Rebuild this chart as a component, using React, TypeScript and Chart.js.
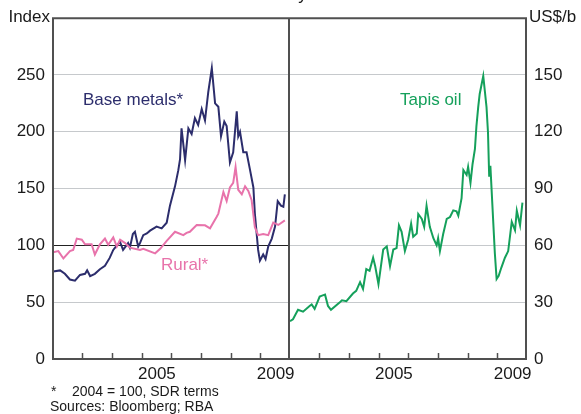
import React, { useEffect, useRef } from 'react';
import { Chart, registerables } from 'chart.js';

Chart.register(...registerables);

const FONT = "Arial, 'Liberation Sans', Helvetica, sans-serif";
Chart.defaults.font.family = FONT;

// ---- data ----
const baseMetalsYears = [
  2002.0, 2002.24, 2002.4, 2002.57, 2002.74, 2002.91, 2003.08, 2003.15, 2003.25, 2003.41,
  2003.58, 2003.75, 2003.91, 2004.03, 2004.15, 2004.26, 2004.36, 2004.53, 2004.59, 2004.69,
  2004.76, 2004.87, 2004.93, 2005.04, 2005.16, 2005.27, 2005.49, 2005.66, 2005.83, 2005.94,
  2006.11, 2006.22, 2006.28, 2006.33, 2006.45, 2006.56, 2006.67, 2006.78, 2006.89, 2007.01,
  2007.12, 2007.23, 2007.35, 2007.46, 2007.57, 2007.66, 2007.77, 2007.85, 2007.96, 2008.07,
  2008.19, 2008.24, 2008.3, 2008.41, 2008.52, 2008.64, 2008.75, 2008.8, 2008.91, 2008.97,
  2009.08, 2009.16, 2009.25, 2009.37, 2009.48, 2009.57, 2009.68, 2009.76, 2009.81,
];
const baseMetalsValues = [
  77, 78, 75, 70, 69, 74, 75, 78, 73, 75,
  79, 82, 89, 96, 100, 103, 96, 102, 98, 110,
  112, 99, 102, 109, 110.5, 113, 116.5, 115, 120, 135,
  152, 166, 176, 203, 175, 203, 198, 212, 206, 220,
  210, 235, 256, 225, 222, 196, 209, 205, 173, 182,
  218, 196, 200, 182, 182, 166, 151, 128, 96, 86.5,
  92, 88, 99, 106, 116.6, 139, 135, 134, 145,
];

const ruralYears = [
  2002.0, 2002.18, 2002.35, 2002.57, 2002.68, 2002.8, 2002.97, 2003.08, 2003.3, 2003.41,
  2003.58, 2003.75, 2003.86, 2004.03, 2004.15, 2004.26, 2004.43, 2004.59, 2004.93, 2005.04,
  2005.44, 2005.61, 2005.83, 2006.11, 2006.39, 2006.5, 2006.61, 2006.84, 2007.12, 2007.29,
  2007.51, 2007.57, 2007.74, 2007.85, 2007.96, 2008.07, 2008.15, 2008.24, 2008.36, 2008.47,
  2008.58, 2008.69, 2008.8, 2008.91, 2009.08, 2009.25, 2009.42, 2009.59, 2009.81,
];
const ruralValues = [
  94, 95, 88.5, 95, 96, 106, 105, 101, 101, 92,
  101, 106, 100.6, 107, 99, 105, 102, 98, 96, 97,
  93, 97, 104, 112, 109, 111, 112, 118, 117.7, 115,
  125, 128, 147, 139, 151, 155, 169, 149, 145, 152,
  148, 140, 116, 109, 110, 109, 120, 118, 122,
];

const tapisYears = [
  2002.0, 2002.1, 2002.27, 2002.44, 2002.66, 2002.73, 2002.83, 2003.0, 2003.08, 2003.18,
  2003.28, 2003.38, 2003.68, 2003.75, 2003.9, 2004.12, 2004.23, 2004.36, 2004.46, 2004.57,
  2004.68, 2004.8, 2004.87, 2004.98, 2005.14, 2005.26, 2005.37, 2005.48, 2005.59, 2005.67,
  2005.76, 2005.87, 2005.98, 2006.08, 2006.15, 2006.27, 2006.32, 2006.44, 2006.52, 2006.6,
  2006.71, 2006.83, 2006.94, 2006.99, 2007.05, 2007.16, 2007.28, 2007.39, 2007.5, 2007.61,
  2007.67, 2007.78, 2007.84, 2007.95, 2008.0, 2008.08, 2008.15, 2008.23, 2008.28, 2008.34,
  2008.39, 2008.51, 2008.62, 2008.67, 2008.71, 2008.75, 2008.9, 2008.96, 2009.03, 2009.12,
  2009.24, 2009.35, 2009.47, 2009.58, 2009.64, 2009.75, 2009.83,
];
const tapisValues = [
  20, 21, 26, 25, 28, 28.8, 26.5, 33, 33.5, 34,
  28, 26, 30, 31, 30.5, 34.6, 36, 40.6, 37, 47.5,
  46.6, 53.5, 49, 39.5, 57.8, 59.5, 49, 57.8, 58.6, 70.6,
  67.2, 57, 63, 71.5, 64.6, 66.3, 76.6, 74, 69.8, 80.9,
  69.8, 63.8, 60, 63.8, 57, 66, 74, 75, 78.5, 78,
  75.7, 85, 99.8, 97.2, 101.5, 93, 103, 111, 123, 133,
  140, 149.5, 133, 119.5, 96.3, 102, 56, 42.3, 44, 48.3,
  53.5, 57, 72.4, 68, 78.3, 70.6, 82.6,
];

const indexTicks = [0, 50, 100, 150, 200, 250];
const oilTicks = [0, 30, 60, 90, 120, 150];
const yearTicks = [2002, 2003, 2004, 2005, 2006, 2007, 2008, 2009];
const yearLabels = ['2005', '2009'];

// ---- styling ----
const W = 581;
const H = 414;
const NAVY = '#2c2d6c';
const PINK = '#e873ab';
const GREEN = '#15a05b';
const GRID = '#c6c9cc';
const FRAME = '#505050';
const TEXT = '#1a1a1a';

const toPoints = (xs: number[], ys: number[]) => xs.map((x, i) => ({ x, y: ys[i] }));

function textPlugin(items: { text: string; x: number; y: number; color: string; align: CanvasTextAlign; size: number; baseline?: CanvasTextBaseline }[]) {
  return {
    id: 'texts',
    afterDraw(chart: any) {
      const ctx = chart.ctx;
      ctx.save();
      for (const it of items) {
        ctx.font = `${it.size}px ${FONT}`;
        ctx.fillStyle = it.color;
        ctx.textAlign = it.align;
        ctx.textBaseline = it.baseline || 'middle';
        ctx.fillText(it.text, it.x, it.y);
      }
      ctx.restore();
    },
  };
}

function framePlugin(drawLeft: boolean) {
  return {
    id: 'frame',
    afterDraw(chart: any) {
      const { left, right, top, bottom } = chart.chartArea;
      const ctx = chart.ctx;
      ctx.save();
      ctx.strokeStyle = FRAME;
      ctx.lineWidth = 2;
      ctx.beginPath();
      if (drawLeft) {
        ctx.moveTo(left, bottom);
        ctx.lineTo(left, top);
      } else {
        ctx.moveTo(left, top);
      }
      ctx.lineTo(right, top);
      ctx.lineTo(right, bottom);
      ctx.lineTo(left - (drawLeft ? 1 : 0), bottom);
      ctx.stroke();
      ctx.restore();
    },
  };
}

function panelOptions(isLeft: boolean): any {
  const yTicks = isLeft ? indexTicks : oilTicks;
  return {
    responsive: false,
    animation: false,
    devicePixelRatio: 1,
    layout: {
      padding: isLeft
        ? { left: 8, right: W - 289, top: 9, bottom: 0 }
        : { left: 290, right: 0, top: 9, bottom: 0 },
    },
    plugins: {
      legend: { display: false },
      tooltip: { enabled: false },
      title: { display: false },
    },
    elements: { point: { radius: 0 }, line: { tension: 0 } },
    scales: {
      x: {
        type: 'linear',
        min: 2002,
        max: 2009.95,
        afterBuildTicks: (s: any) => {
          const vals = [...yearTicks, ...yearLabels.map((l) => Number(l) + 0.5)].sort((a, b) => a - b);
          s.ticks = vals.map((value) => ({ value }));
        },
        afterFit: (s: any) => {
          s.height = H - 359;
        },
        border: { display: false },
        grid: {
          drawOnChartArea: false,
          drawTicks: true,
          tickLength: -6,
          tickWidth: 1.5,
          tickColor: (ctx: any) => {
            const v = ctx.tick ? ctx.tick.value : 0;
            return Number.isInteger(v) && v > 2002 ? FRAME : 'rgba(0,0,0,0)';
          },
        },
        ticks: {
          autoSkip: false,
          maxRotation: 0,
          minRotation: 0,
          padding: 11,
          color: TEXT,
          font: { size: 17 },
          callback: (v: number) => {
            const l = yearLabels.find((s) => Number(s) + 0.5 === v);
            return l ? l : '';
          },
        },
      },
      y: {
        position: isLeft ? 'left' : 'right',
        min: 0,
        max: isLeft ? 300 : 180,
        afterFit: (s: any) => {
          s.width = isLeft ? 45 : W - 526;
        },
        border: { display: false },
        grid: {
          drawTicks: false,
          lineWidth: 1,
          color: (ctx: any) => (isLeft && ctx.tick && ctx.tick.value === 100 ? '#222222' : GRID),
        },
        ticks: {
          stepSize: isLeft ? 50 : 30,
          padding: 8,
          color: TEXT,
          font: { size: 17 },
          callback: (v: number) => (yTicks.includes(v) ? String(v) : null),
        },
      },
    },
  };
}

export default function App() {
  const leftRef = useRef<HTMLCanvasElement>(null);
  const rightRef = useRef<HTMLCanvasElement>(null);

  useEffect(() => {
    const left = new Chart(leftRef.current as HTMLCanvasElement, {
      type: 'line',
      data: {
        datasets: [
          { label: 'Rural*', data: toPoints(ruralYears, ruralValues), borderColor: PINK, borderWidth: 2, fill: false },
          { label: 'Base metals*', data: toPoints(baseMetalsYears, baseMetalsValues), borderColor: NAVY, borderWidth: 2, fill: false },
        ],
      },
      options: panelOptions(true),
      plugins: [
        framePlugin(true),
        textPlugin([
          { text: 'Index', x: 50, y: 17, color: TEXT, align: 'right', size: 17 },
          { text: 'Base metals*', x: 83, y: 100, color: NAVY, align: 'left', size: 17 },
          { text: 'Rural*', x: 161, y: 265, color: PINK, align: 'left', size: 17 },
          { text: 'Weekly', x: 279, y: 0, color: TEXT, align: 'center', size: 17, baseline: 'alphabetic' },
        ]),
      ],
    } as any);

    const right = new Chart(rightRef.current as HTMLCanvasElement, {
      type: 'line',
      data: {
        datasets: [
          { label: 'Tapis oil', data: toPoints(tapisYears, tapisValues), borderColor: GREEN, borderWidth: 2, fill: false },
        ],
      },
      options: panelOptions(false),
      plugins: [
        framePlugin(false),
        textPlugin([
          { text: 'US$/b', x: 529, y: 17, color: TEXT, align: 'left', size: 17 },
          { text: 'Tapis oil', x: 400, y: 100, color: GREEN, align: 'left', size: 17 },
        ]),
      ],
    } as any);

    return () => {
      left.destroy();
      right.destroy();
    };
  }, []);

  const noteStyle: React.CSSProperties = {
    position: 'absolute',
    fontSize: 14,
    lineHeight: '15px',
    color: TEXT,
    whiteSpace: 'nowrap',
  };

  return (
    <div style={{ position: 'absolute', left: 0, top: 0, width: W, height: H, background: '#ffffff', overflow: 'hidden', fontFamily: FONT }}>
      <canvas ref={leftRef} width={W} height={H} style={{ position: 'absolute', left: 0, top: 0 }} />
      <canvas ref={rightRef} width={W} height={H} style={{ position: 'absolute', left: 0, top: 0 }} />
      <div style={{ ...noteStyle, left: 51, top: 384 }}>*</div>
      <div style={{ ...noteStyle, left: 72, top: 384 }}>2004 = 100, SDR terms</div>
      <div style={{ ...noteStyle, left: 50, top: 399 }}>Sources: Bloomberg; RBA</div>
    </div>
  );
}
